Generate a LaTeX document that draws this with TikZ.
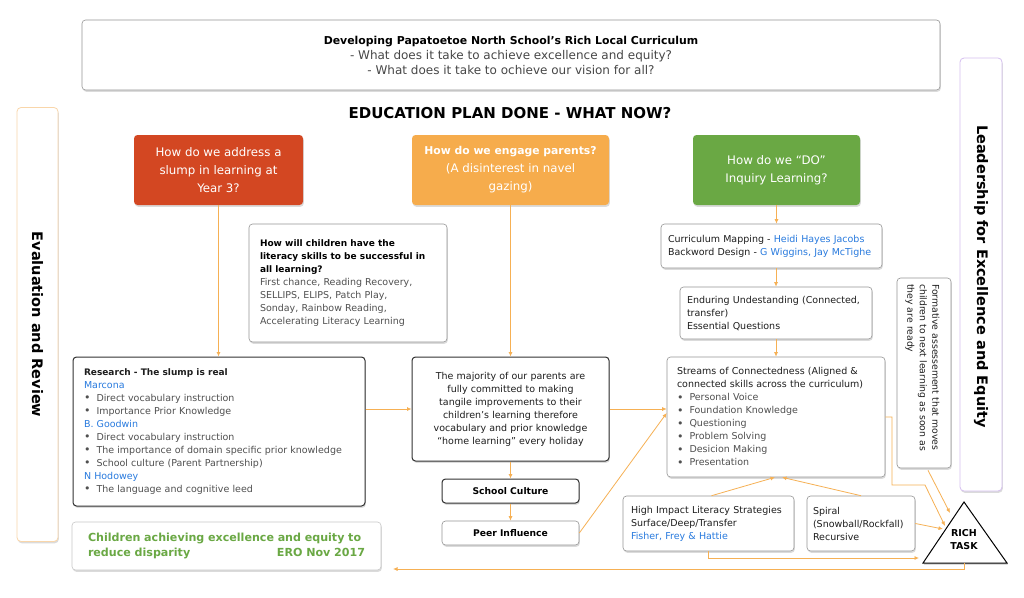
\documentclass[tikz,border=0pt]{standalone}
\usepackage{fontspec}
\setmainfont{DejaVu Sans}
\usetikzlibrary{arrows.meta,shadows,calc}
\definecolor{cred}{RGB}{211,71,34}
\definecolor{corange}{RGB}{246,172,76}
\definecolor{cgreen}{RGB}{106,168,68}
\definecolor{lineor}{RGB}{246,176,84}
\definecolor{cblue}{RGB}{40,122,222}
\definecolor{tgray}{RGB}{80,80,80}
\definecolor{tdark}{RGB}{30,30,30}
\definecolor{bgray}{RGB}{150,150,150}
\definecolor{bdark}{RGB}{50,50,50}
\definecolor{lorange}{RGB}{249,214,170}
\definecolor{lpurple}{RGB}{214,192,240}
\newcommand{\bl}{\makebox[12.5pt][l]{\raisebox{-0.3pt}{\fontsize{11}{13}\selectfont\textbullet}}}
\newcommand{\bu}[1]{\textcolor{cblue}{#1}}
\newcommand{\bd}[1]{{\bfseries\fontsize{9}{13}\selectfont #1}}
\newcommand{\gi}[1]{{\color{tgray}\bl #1}}
\begin{document}
\begin{tikzpicture}[x=1pt,y=-1pt,
 shad/.style={drop shadow={shadow xshift=0.8pt,shadow yshift=-1.8pt,opacity=0.14,fill=black}},
 gbox/.style={shad,draw=bgray,line width=0.6pt,fill=white,rounded corners=3.5pt},
 dbox/.style={shad,draw=bdark,line width=1pt,fill=white,rounded corners=3.5pt},
 cbox/.style={shad,rounded corners=3.5pt,text=white,align=center,font=\fontsize{11.8}{18}\selectfont},
 body/.style={font=\fontsize{9.5}{13}\selectfont,text=tdark,align=left},
 conn/.style={draw=lineor,line width=0.8pt,-{Latex[length=4.5pt,width=4pt]}},
 vtitle/.style={rotate=-90,font=\bfseries\fontsize{14.5}{17}\selectfont},
]
\fill[white] (0,0) rectangle (1024,597);
\useasboundingbox (0,0) rectangle (1024,597);

% title
\node[gbox,minimum width=858pt,minimum height=70pt,align=center,text=black!72,font=\fontsize{12}{15}\selectfont] (title) at (511,55)
 {{\color{black}\bfseries\fontsize{10.9}{15}\selectfont Developing Papatoetoe North School’s Rich Local Curriculum}\\- What does it take to achieve excellence and equity?\\- What does it take to ochieve our vision for all?};
\node[font=\bfseries\fontsize{15}{18}\selectfont] (edu) at (510,113) {EDUCATION PLAN DONE - WHAT NOW?};

% side boxes
\node[shad,draw=lorange,line width=0.8pt,fill=white,rounded corners=4pt,minimum width=41pt,minimum height=434pt] (evalbox) at (37.5,324.5) {};
\node[vtitle] (evaltxt) at (evalbox.center) {Evaluation and Review};
\node[shad,draw=lpurple,line width=0.8pt,fill=white,rounded corners=4pt,minimum width=42pt,minimum height=433pt] (leadbox) at (981,274.5) {};
\node[vtitle] (leadtxt) at ([yshift=-2pt]leadbox.center) {Leadership for Excellence and Equity};

% coloured question boxes
\node[cbox,fill=cred,minimum width=169pt,minimum height=70pt] (red) at (218.5,170) {How do we address a\\slump in learning at\\Year 3?};
\node[cbox,fill=corange,minimum width=197pt,minimum height=70pt] (orange) at (510.5,170) {{\bfseries\fontsize{10.8}{18}\selectfont How do we engage parents?}\\(A disinterest in navel\\gazing)};
\node[cbox,fill=cgreen,minimum width=167pt,minimum height=70pt] (green) at (776.5,170) {How do we “DO”\\Inquiry Learning?};

% literacy
\node[gbox,body,text=tgray,minimum width=198pt,minimum height=118pt,inner xsep=11pt,text width=176pt] (lit) at (348,283)
 {\textcolor{black}{\bd{How will children have the\\literacy skills to be successful in\\all learning?}}\\First chance, Reading Recovery,\\SELLIPS, ELIPS, Patch Play,\\Sonday, Rainbow Reading,\\Accelerating Literacy Learning};

% research
\node[dbox,body,minimum width=292pt,minimum height=149pt,inner xsep=11pt,text width=270pt] (res) at (219,431.5)
 {\bd{Research - The slump is real}\\\bu{Marcona}\\\gi{Direct vocabulary instruction}\\\gi{Importance Prior Knowledge}\\\bu{B. Goodwin}\\\gi{Direct vocabulary instruction}\\\gi{The importance of domain specific prior knowledge}\\\gi{School culture (Parent Partnership)}\\\bu{N Hodowey}\\\gi{The language and cognitive leed}};

% parents
\node[dbox,body,align=center,minimum width=197pt,minimum height=104pt,inner xsep=8pt,text width=181pt] (par) at (510.5,409)
 {The majority of our parents are\\fully committed to making\\tangile improvements to their\\children’s learning therefore\\vocabulary and prior knowledge\\“home learning” every holiday};
\node[dbox,minimum width=137pt,minimum height=24pt,font=\bfseries\fontsize{9.2}{12}\selectfont] (sc) at (510.5,491) {School Culture};
\node[gbox,minimum width=137pt,minimum height=24pt,font=\bfseries\fontsize{9.2}{12}\selectfont] (peer) at (510.5,533) {Peer Influence};

% inquiry column
\node[gbox,body,minimum width=221pt,minimum height=44pt,inner xsep=7pt,text width=207pt] (cur) at (771.5,246)
 {Curriculum Mapping - \bu{Heidi Hayes Jacobs}\\Backword Design - \bu{G Wiggins, Jay McTighe}};
\node[gbox,body,minimum width=192pt,minimum height=52pt,inner xsep=7pt,text width=178pt] (end) at (776,313)
 {Enduring Undestanding (Connected,\\transfer)\\Essential Questions};
\node[gbox,body,minimum width=218pt,minimum height=120pt,inner xsep=10pt,text width=198pt] (str) at (776,417)
 {Streams of Connectedness (Aligned \&\\connected skills across the curriculum)\\\gi{Personal Voice}\\\gi{Foundation Knowledge}\\\gi{Questioning}\\\gi{Problem Solving}\\\gi{Desicion Making}\\\gi{Presentation}};

% formative
\node[gbox,minimum width=54pt,minimum height=190pt] (form) at (924,373) {};
\node[rotate=-90,font=\fontsize{9.3}{12.5}\selectfont,text=tdark,text width=178pt,align=left,inner sep=0pt] (formtxt) at ([xshift=-1.5pt]form.center)
 {Formative assessement that moves\\children to next learning as soon as\\they are ready};

% bottom boxes
\node[gbox,body,minimum width=171pt,minimum height=55pt,inner xsep=8pt,text width=155pt] (hi) at (708.5,523.5)
 {High Impact Literacy Strategies\\Surface/Deep/Transfer\\\bu{Fisher, Frey \& Hattie}};
\node[gbox,body,minimum width=108pt,minimum height=55pt,inner xsep=6pt,text width=96pt] (spi) at (861,523.5)
 {Spiral\\(Snowball/Rockfall)\\Recursive};

% rich task triangle
\coordinate (triA) at (964,502);
\coordinate (triL) at (923,563);
\coordinate (triR) at (1007,563);
\draw[shad,line width=1pt,fill=white] (triA) -- (triL) -- (triR) -- cycle;
\node[font=\bfseries\fontsize{9.5}{13}\selectfont,align=center] (rich) at (964,540) {RICH\\TASK};

% children
\node[gbox,draw=black!22,minimum width=309pt,minimum height=48pt,inner xsep=16pt,text width=277pt,align=left,text=cgreen,font=\bfseries\fontsize{11.1}{15}\selectfont] (child) at (226.5,546)
 {Children achieving excellence and equity to\\reduce disparity\hspace{\stretch{1000}}ERO Nov 2017};

% connectors
\draw[conn] (red.south) -- (red.south |- res.north);
\draw[conn] (orange.south) -- (orange.south |- par.north);
\draw[conn] (green.south) -- (green.south |- cur.north);
\draw[conn] (end.north |- cur.south) -- (end.north);
\draw[conn] (end.south) -- (end.south |- str.north);
\draw[conn] (res.east |- par.west) -- (par.west);
\draw[conn] (par.east) -- (par.east -| str.west);
\draw[conn] (sc.south |- par.south) -- (sc.north);
\draw[conn] (sc.south) -- (peer.north);
\coordinate (strin2) at ($(str.west)+(0,-4)$);
\draw[conn] (peer.east) -- (strin2);
\draw[conn] ($(hi.north)+(3,0)$) -- ($(str.south)+(-1,0)$);
\draw[conn] (spi.north) -- ($(str.south)+(6,0)$);
\coordinate (hitip) at (919,558);
\draw[conn] (hi.south) |- (hitip);
\coordinate (tribot) at (964,563);
\coordinate (childtip) at (393,569);
\draw[conn] (tribot) |- (childtip);
\coordinate (sb1) at (892,485);
\coordinate (sb2) at (925,485);
\coordinate (sbtip) at (945,526);
\draw[conn] (str.east) -| (sb1) -- (sb2) -- (sbtip);
\coordinate (sptip) at (943,529);
\draw[conn] (spi.east) -- (sptip);
\coordinate (fotip) at (950,513);
\draw[conn] ($(form.south)+(4,2)$) -- (fotip);
\end{tikzpicture}
\end{document}
